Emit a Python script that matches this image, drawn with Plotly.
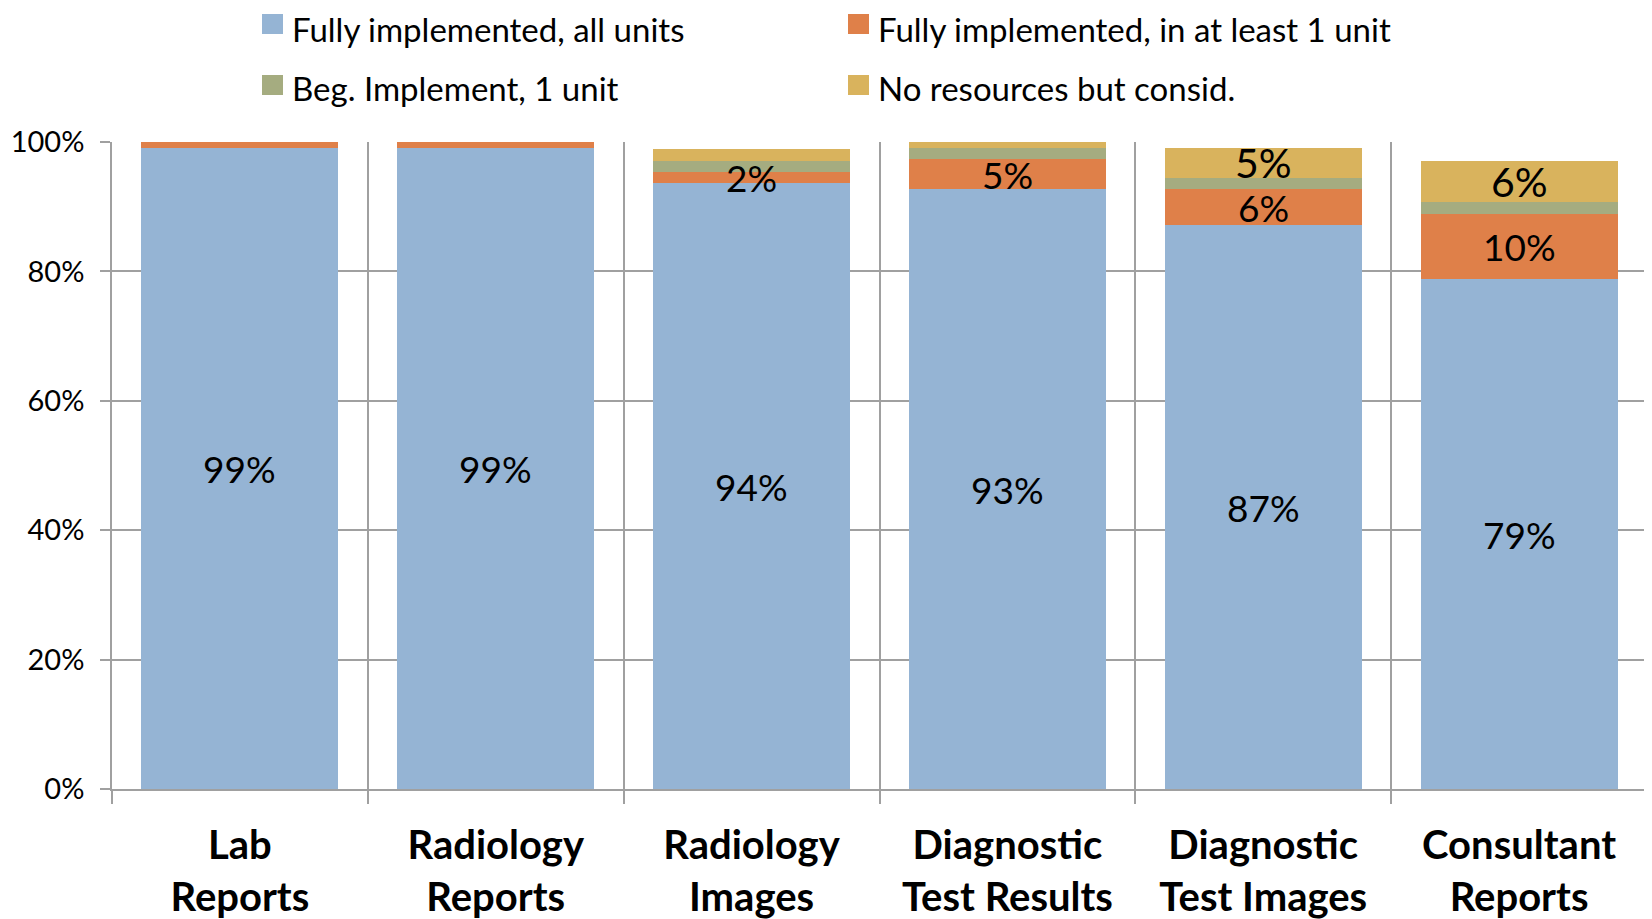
import plotly.graph_objects as go

categories = ["Lab<br>Reports", "Radiology<br>Reports", "Radiology<br>Images",
              "Diagnostic<br>Test Results", "Diagnostic<br>Test Images", "Consultant<br>Reports"]
full_all = [99.0, 99.0, 93.6, 92.7, 87.1, 78.8]
full_one = [1.0, 1.0, 1.7, 4.6, 5.6, 10.1]
beg_one = [0.0, 0.0, 1.8, 1.7, 1.8, 1.8]
no_res = [0.0, 0.0, 1.8, 1.0, 4.6, 6.4]

series_names = ["Fully implemented, all units", "Fully implemented, in at least 1 unit",
                "Beg. Implement, 1 unit", "No resources but consid."]
series_values = [full_all, full_one, beg_one, no_res]
series_colors = ["#95B4D4", "#DF8049", "#A5AC80", "#D9B35D"]
label_min = [0, 1.5, 1000, 3.0]       # show value label when segment >= this
label_size = [37, 37, 37, 41]

y_tickvals = [0, 20, 40, 60, 80, 100]
y_ticktext = ["0%", "20%", "40%", "60%", "80%", "100%"]

FONT = "Lato"
GRID = "#A0A0A0"
W, H = 1652, 919
ML, MR, MT, MB = 104, 13, 134, 138
PW, PH = W - ML - MR, H - MT - MB
OFF = 8  # page body margin


def px_to_paper(vx, vy):
    fx, fy = vx - OFF, vy - OFF
    return (fx - ML) / PW, (MT + PH - fy) / PH


fig = go.Figure()
for name, vals, col in zip(series_names, series_values, series_colors):
    fig.add_trace(go.Bar(x=categories, y=vals, name=name, marker_color=col,
                         marker_line_width=0, showlegend=False, hoverinfo="skip"))

annotations = []
base = [0.0] * len(categories)
for vals, mn, sz in zip(series_values, label_min, label_size):
    for i, v in enumerate(vals):
        if v >= mn:
            annotations.append(dict(x=categories[i], y=base[i] + v / 2, xref="x", yref="y",
                                    text=f"{round(v)}%", showarrow=False,
                                    font=dict(family=FONT, size=sz, color="black")))
        base[i] += v

# manual legend (viewport pixel anchors: marker centre, text top)
legend_pos = [(262, 24, 8), (848, 24, 8), (262, 85, 67), (848, 85, 67)]
shapes = []
for (vx, vy, vt), name, col in zip(legend_pos, series_names, series_colors):
    x0, y0 = px_to_paper(vx, vy - 10)
    x1, y1 = px_to_paper(vx + 21, vy + 10)
    shapes.append(dict(type="rect", xref="paper", yref="paper", x0=x0, x1=x1,
                       y0=y0, y1=y1, fillcolor=col, line_width=0))
    tx, ty = px_to_paper(vx + 29, vt)
    annotations.append(dict(x=tx, y=ty, xref="paper", yref="paper", xanchor="left",
                            yanchor="top", text=name, showarrow=False, borderpad=0,
                            font=dict(family=FONT, size=33, color="black")))

fig.update_layout(
    width=W, height=H,
    margin=dict(l=ML, r=MR, t=MT, b=MB, autoexpand=False),
    paper_bgcolor="white", plot_bgcolor="white",
    barmode="stack", bargap=0.23,
    annotations=annotations, shapes=shapes,
    font=dict(family=FONT, color="black"),
)
fig.update_xaxes(type="category", tickson="boundaries", showgrid=True, gridcolor=GRID,
                 gridwidth=1.5, ticks="outside", ticklen=13, tickcolor=GRID, tickwidth=1.5,
                 showline=True, linecolor=GRID, linewidth=1.5, automargin=False,
                 mirror=False,
                 tickfont=dict(family=FONT, size=40, color="black", weight="bold"),
                 ticklabelstandoff=20)
fig.update_yaxes(range=[0, 100], tickvals=y_tickvals, ticktext=y_ticktext,
                 showgrid=True, gridcolor=GRID, gridwidth=1.5, zeroline=False,
                 ticks="outside", ticklen=10, tickcolor=GRID, tickwidth=1.5,
                 showline=True, linecolor=GRID, linewidth=1.5, automargin=False,
                 tickfont=dict(family=FONT, size=29, color="black"),
                 ticklabelstandoff=10)

fig.write_html("out.html")
